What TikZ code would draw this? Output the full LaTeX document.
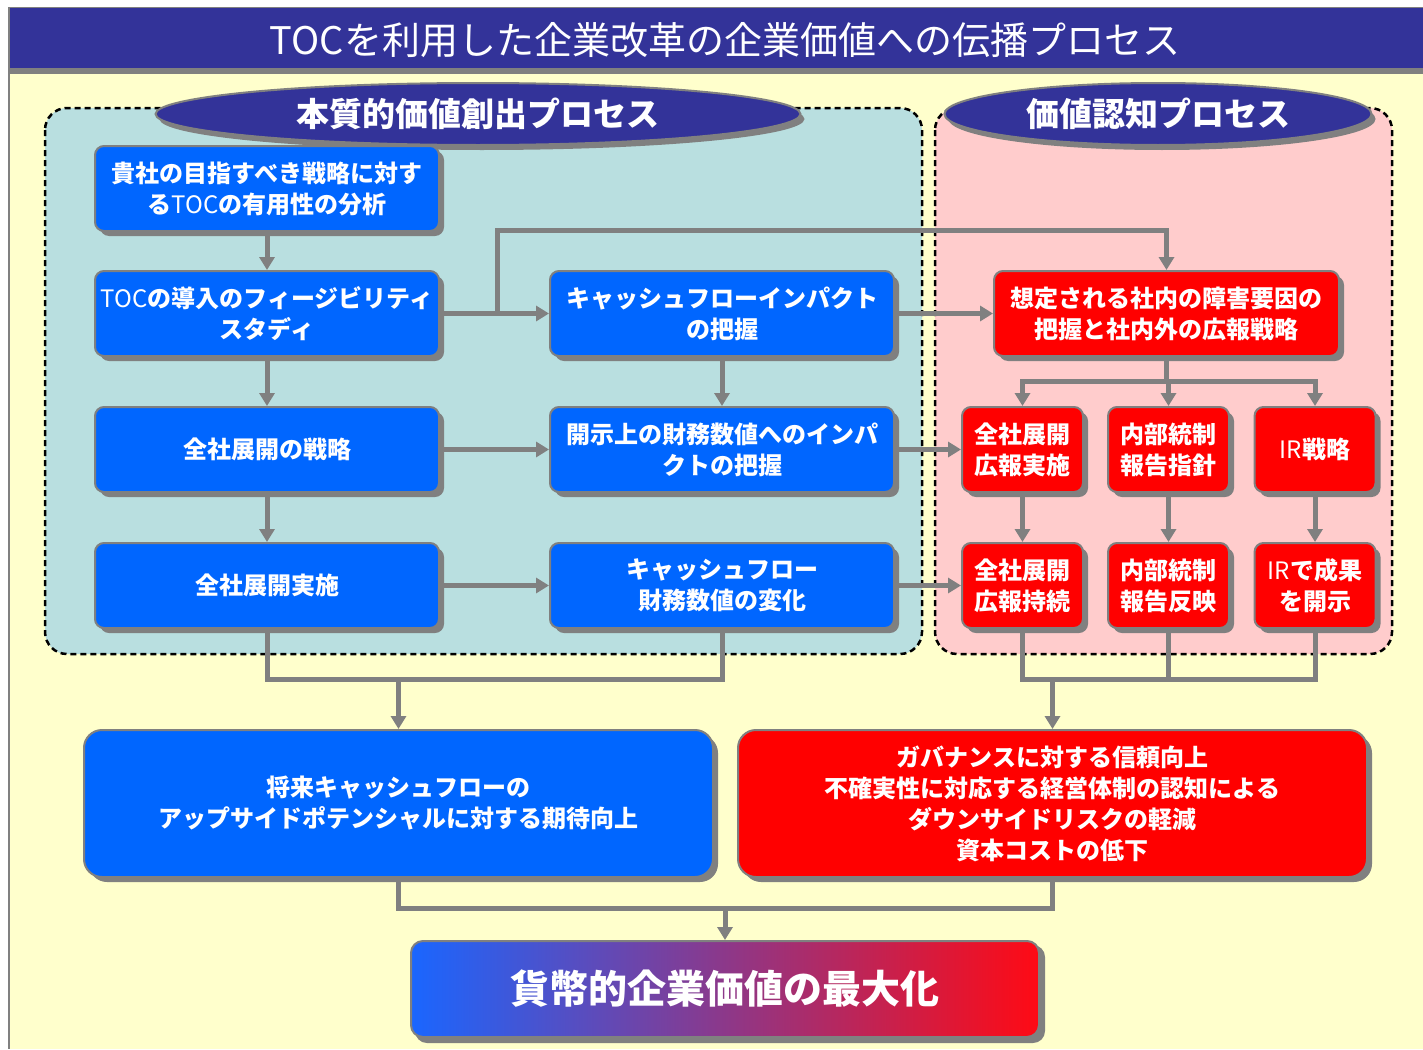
\documentclass[tikz,border=0pt]{standalone}
\usepackage{fontspec}
\setmainfont{Noto Sans CJK JP}
\usetikzlibrary{arrows.meta,shadows,shapes.geometric}
\definecolor{lgray}{HTML}{808080}
\definecolor{bbl}{HTML}{0066FF}
\definecolor{rred}{HTML}{FF0000}
\definecolor{navy}{HTML}{333399}
\definecolor{ylw}{HTML}{FFFFCC}
\definecolor{pgreen}{HTML}{B9DFE0}
\definecolor{ppink}{HTML}{FFCCCC}
\definecolor{gbl}{HTML}{1A66FF}
\definecolor{gmid}{HTML}{A050C8}
\definecolor{grd}{HTML}{FF0A14}
\newcommand\fsz[2]{\fontsize{#1}{#2}\selectfont}
\newcommand\lat[1]{{\mdseries #1}}
\tikzset{
  boxbase/.style={draw=lgray, line width=2pt, rounded corners=9pt, text=white,
    font=\bfseries\fsz{24}{31}, align=center, inner sep=2pt,
    drop shadow={shadow xshift=5pt, shadow yshift=-5pt, fill=lgray, opacity=1}},
  bluebox/.style={boxbase, fill=bbl, minimum width=344pt, minimum height=85pt},
  redbox/.style={boxbase, fill=rred, minimum width=121pt, minimum height=85pt},
  conn/.style={draw=lgray, line width=5pt, line join=miter},
  arr/.style={conn, -{Triangle[width=15pt,length=13pt]}},
  panel/.style={draw=black, line width=2.5pt, dash pattern=on 6pt off 4pt, rounded corners=22pt},
  header/.style={ellipse, fill=navy, draw=lgray, line width=2pt, text=white,
    font=\bfseries\fsz{33}{36}, minimum height=62pt,
    drop shadow={shadow xshift=4pt, shadow yshift=-5pt, fill=lgray, opacity=1}}
}
\begin{document}
\begin{tikzpicture}[x=1pt,y=-1pt]
\useasboundingbox (0,0) rectangle (1423,1049);
\fill[white] (0,0) rectangle (1423,1049);
% frame and background
\fill[lgray] (8,7) rectangle (1423,1049);
\fill[ylw] (10,74) rectangle (1423,1049);
\fill[navy] (10,8) rectangle (1423,68);
\node[text=white, font=\fsz{38}{42}] (title) at (725,40) {TOCを利用した企業改革の企業価値への伝播プロセス};
% panels
\draw[panel, fill=pgreen] (45,108) rectangle (922,654);
\draw[panel, fill=ppink] (935,108) rectangle (1392,654);
\node[header, minimum width=645pt] (h1) at (478,114) {本質的価値創出プロセス};
\node[header, minimum width=427pt] (h2) at (1158,114) {価値認知プロセス};
% blue boxes
\node[bluebox] (A) at (267,188.5) {貴社の目指すべき戦略に対す\\る\lat{TOC}の有用性の分析};
\node[bluebox] (B) at (267,313.5) {\lat{TOC}の導入のフィージビリティ\\スタディ};
\node[bluebox] (C) at (267,449.5) {全社展開の戦略};
\node[bluebox] (D) at (267,585.5) {全社展開実施};
\node[bluebox] (E) at (722,313.5) {キャッシュフローインパクト\\の把握};
\node[bluebox] (F) at (722,449.5) {開示上の財務数値へのインパ\\クトの把握};
\node[bluebox] (G) at (722,585.5) {キャッシュフロー\\財務数値の変化};
% red boxes
\node[redbox, minimum width=345pt] (R1) at (1166.5,313.5) {想定される社内の障害要因の\\把握と社内外の広報戦略};
\node[redbox] (R2) at (1022.5,449.5) {全社展開\\広報実施};
\node[redbox] (R3) at (1168.5,449.5) {内部統制\\報告指針};
\node[redbox] (R4) at (1315,449.5) {\lat{IR}戦略};
\node[redbox] (R5) at (1022.5,585.5) {全社展開\\広報持続};
\node[redbox] (R6) at (1168.5,585.5) {内部統制\\報告反映};
\node[redbox] (R7) at (1315,585.5) {\lat{IR}で成果\\を開示};
% bottom boxes
\node[boxbase, fill=bbl, minimum width=629pt, minimum height=147pt, rounded corners=18pt] (BB) at (398.5,803.5)
  {将来キャッシュフローの\\アップサイドポテンシャルに対する期待向上};
\node[boxbase, fill=rred, minimum width=629pt, minimum height=147pt, rounded corners=18pt] (BR) at (1052.5,803.5)
  {ガバナンスに対する信頼向上\\不確実性に対応する経営体制の認知による\\ダウンサイドリスクの軽減\\資本コストの低下};
\fill[lgray, rounded corners=12pt] (415,945) rectangle (1045,1043);
\node[draw=lgray, line width=2pt, rounded corners=12pt, left color=gbl, middle color=gmid, right color=grd,
  minimum width=628pt, minimum height=96pt, text=white, font=\bfseries\fsz{39}{44}] (FIN) at (725,989) {貨幣的企業価値の最大化};
% connectors
\coordinate (j1) at (497,313.5);
\coordinate (j1t) at (497,230);
\coordinate (s1) at (1166.5,381);
\coordinate (m1) at (398.5,679);
\coordinate (m2) at (1052.5,679);
\coordinate (m3) at (725,908);
\draw[arr] (A) -- (B);
\draw[arr] (B) -- (E);
\draw[arr] (j1) -- (j1t) -| (R1.north);
\draw[arr] (E) -- (R1);
\draw[arr] (B) -- (C);
\draw[arr] (E) -- (F);
\draw[arr] (C) -- (F);
\draw[arr] (F) -- (R2);
\draw[arr] (C) -- (D);
\draw[arr] (D) -- (G);
\draw[arr] (G) -- (R5);
\draw[conn] (R1.south) -- (s1);
\draw[arr] (s1) -| (R2.north);
\draw[arr] (s1) -| (R4.north);
\draw[arr] (R3.north |- s1) -- (R3.north);
\draw[arr] (R2) -- (R5);
\draw[arr] (R3) -- (R6);
\draw[arr] (R4) -- (R7);
\draw[conn] (D.south) |- (G.south |- m1) -- (G.south);
\draw[arr] (m1) -- (BB.north);
\draw[conn] (R5.south) |- (R7.south |- m2) -- (R7.south);
\draw[conn] (R6.south) -- (R6.south |- m2);
\draw[arr] (m2) -- (BR.north);
\draw[conn] (BB.south) |- (BR.south |- m3) -- (BR.south);
\draw[arr] (m3) -- (FIN.north);
\end{tikzpicture}
\end{document}
